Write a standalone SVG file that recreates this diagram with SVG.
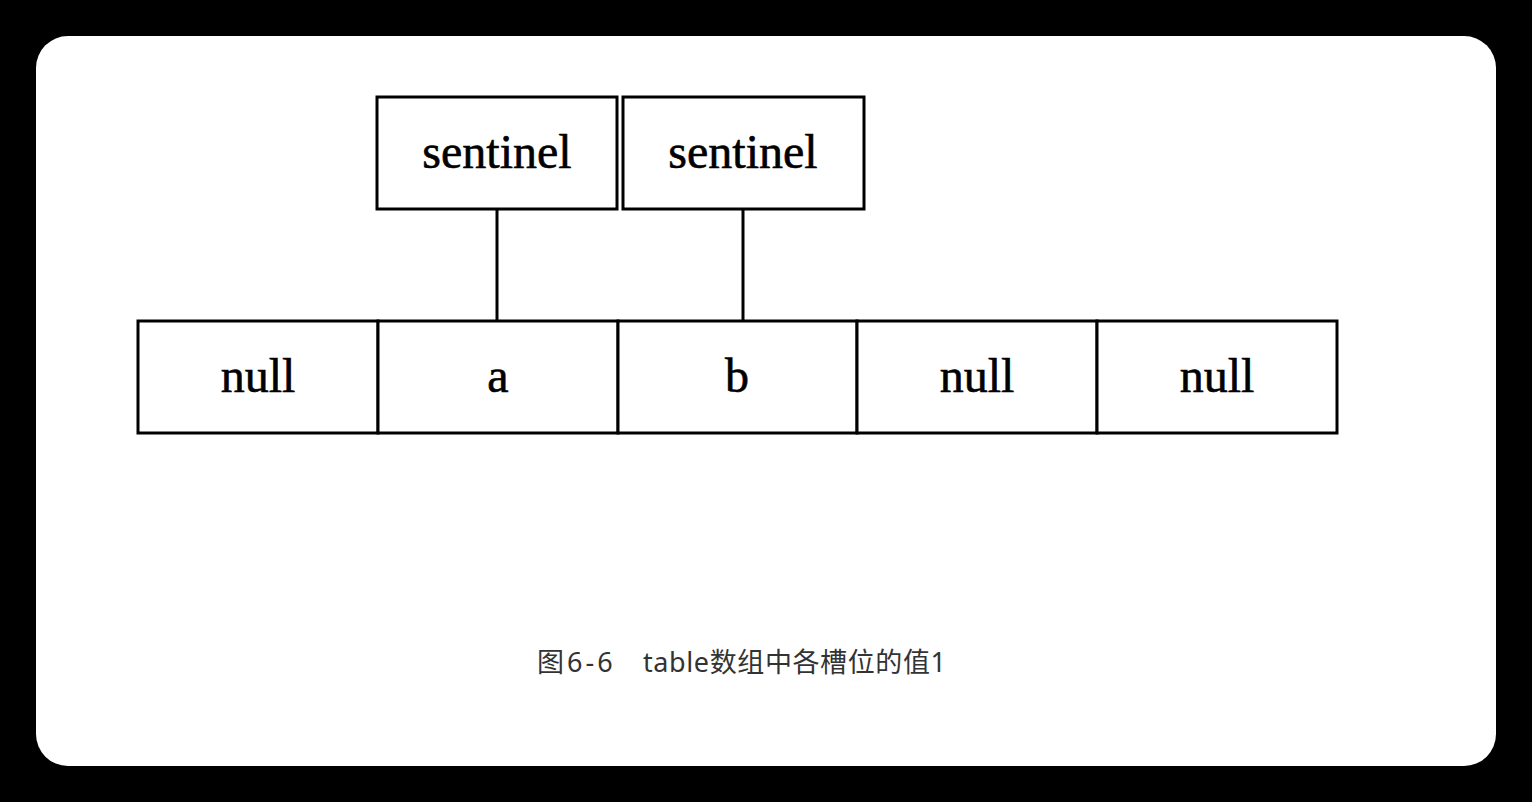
<svg xmlns="http://www.w3.org/2000/svg" width="1532" height="802" viewBox="0 0 1532 802">
<style>
.box{fill:#fff;stroke:#000;stroke-width:3}
.lbl{font-family:"Liberation Serif","Times New Roman",serif;font-size:48px;fill:#000;text-anchor:middle;stroke:#000;stroke-width:0.6}
.cap{font-family:"Noto Sans","Noto Sans CJK SC",sans-serif;font-size:27px;fill:#333}
.conn{stroke:#000;stroke-width:3;fill:none}
</style>
<rect x="0" y="0" width="1532" height="802" fill="#000"/>
<rect x="36" y="36" width="1460" height="730" rx="32" fill="#fff"/>
<g id="connectors">
<line class="conn" x1="497" y1="209" x2="497" y2="321"/>
<line class="conn" x1="743" y1="209" x2="743" y2="321"/>
</g>
<g id="sentinel1"><rect class="box" x="377" y="97" width="240" height="112"/><text class="lbl" x="497" y="168">sentinel</text></g>
<g id="sentinel2"><rect class="box" x="623" y="97" width="241" height="112"/><text class="lbl" x="743" y="168">sentinel</text></g>
<g id="cell0"><rect class="box" x="138" y="321" width="240" height="112"/><text class="lbl" x="258" y="392">null</text></g>
<g id="cell1"><rect class="box" x="378" y="321" width="240" height="112"/><text class="lbl" x="498" y="392">a</text></g>
<g id="cell2"><rect class="box" x="618" y="321" width="239" height="112"/><text class="lbl" x="737" y="392">b</text></g>
<g id="cell3"><rect class="box" x="857" y="321" width="240" height="112"/><text class="lbl" x="977" y="392">null</text></g>
<g id="cell4"><rect class="box" x="1097" y="321" width="240" height="112"/><text class="lbl" x="1217" y="392">null</text></g>
<g id="caption"><text class="cap" y="672"><tspan x="537" letter-spacing="3">图6-6</tspan><tspan x="643" letter-spacing="0.6">table数组中各槽位的值1</tspan></text></g>
</svg>
